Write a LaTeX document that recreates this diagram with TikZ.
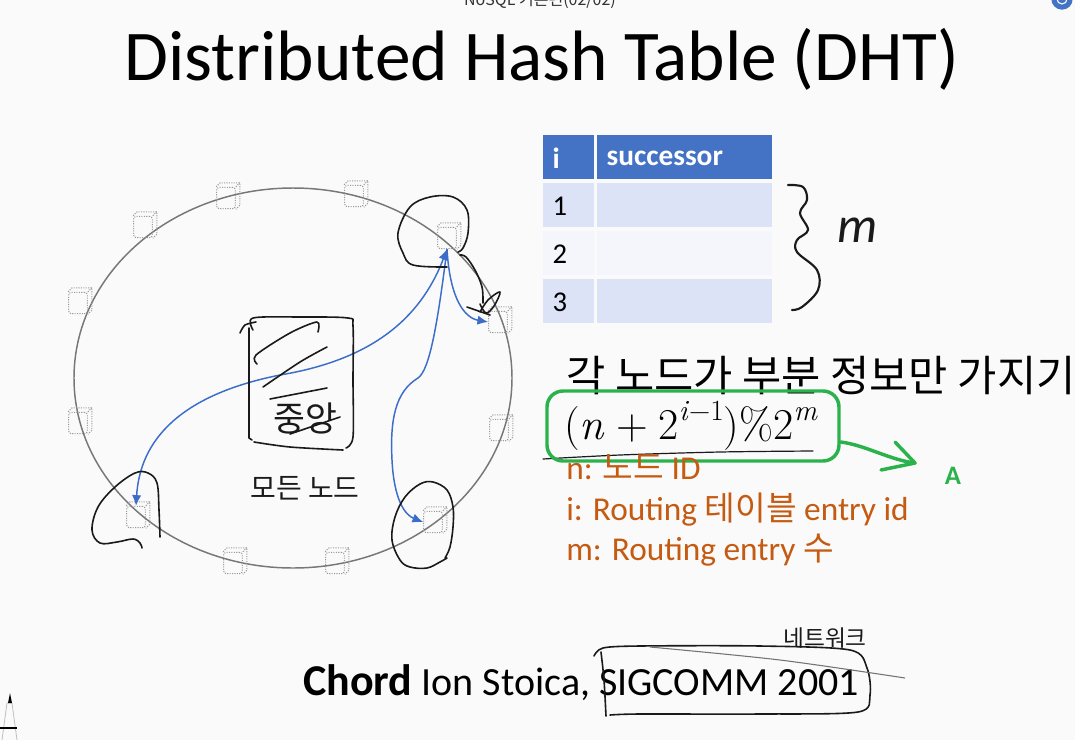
\documentclass[tikz,border=0pt]{standalone}
\usepackage{fontspec}
\setmainfont{Carlito}
\newfontfamily\kr{Noto Sans CJK KR}
\newfontfamily\lmroman{Latin Modern Roman}
\usetikzlibrary{arrows.meta,shapes.geometric}

\definecolor{slidebg}{HTML}{FAFAFA}
\definecolor{ringgray}{HTML}{777777}
\definecolor{cubegray}{HTML}{9A9A9A}
\definecolor{linkblue}{HTML}{3B6DC9}
\definecolor{hdrblue}{HTML}{4472C4}
\definecolor{rowblue}{HTML}{DCE3F7}
\definecolor{rowpale}{HTML}{F4F6FC}
\definecolor{noteorange}{HTML}{C55A11}
\definecolor{pengreen}{HTML}{2BB24C}
\definecolor{inkblack}{HTML}{1A1A1A}

% superscript set in text fonts so it scales with the formula
\newcommand{\supx}[1]{\raisebox{0.42em}{\fontsize{22}{24}\selectfont #1}}

\begin{document}
\begin{tikzpicture}[x=0.75pt,y=-0.75pt,
  cube/.style={draw=cubegray, densely dotted, line width=0.8pt, rounded corners=2pt,
    minimum width=14pt, minimum height=16pt, inner sep=0pt},
  cubeedge/.style={draw=cubegray, densely dotted, line width=0.8pt},
  link/.style={draw=linkblue, line width=1.1pt, -{Latex[length=8pt,width=7pt]}},
  hand/.style={draw=inkblack, line width=1.2pt, line cap=round, line join=round},
  greenpen/.style={draw=pengreen, line width=2.6pt, line cap=round, line join=round},
  cell/.style={anchor=north west, inner sep=0pt, minimum height=33pt, text=black,
    font=\fontsize{19}{22}\selectfont, text depth=0pt},
  celltext/.style={anchor=west, inner sep=0pt, font=\fontsize{21.5}{24}\selectfont},
  note/.style={anchor=base west, inner sep=0pt, text=noteorange,
    font=\fontsize{25}{30}\selectfont},
  script/.style={inner sep=0pt, text=inkblack, font=\kr}
]
\clip (0,0) rectangle (1075,740);
\fill[slidebg] (0,0) rectangle (1075,740);

% window header strip
\node[anchor=base, inner sep=0pt, font=\kr\fontsize{12}{14}\selectfont, text=black!80] (hdr) at (540,5) {NoSQL 기본편(02/02)};
\node[circle, fill=hdrblue, minimum size=16pt, inner sep=0pt] (icon) at (1062,-1) {};
\draw[white, line width=0.8pt] (icon.center) circle [radius=5];

% title
\node[anchor=base, inner sep=0pt, font=\fontsize{53.5}{62}\selectfont] (title) at (542,80) {Distributed Hash Table (DHT)};

% ring of peers
\node[draw=ringgray, line width=1.1pt, ellipse, minimum width=328.5pt, minimum height=285pt, inner sep=0pt] (ring) at (293,378) {};
\foreach \i/\x/\y in {1/143/227, 2/226/198, 3/354/196, 4/447/238, 5/78/303, 6/498/322,
                      7/78/423, 8/499/430, 9/136/517, 10/433/522, 11/233/563, 12/335/563}{
  \node[cube] (c\i) at (\x,\y) {};
  \draw[cubeedge] (c\i.north west) -- ++(4,-4) -| ([shift={(4,-4)}]c\i.south east) -- (c\i.south east);
  \draw[cubeedge] (c\i.north east) -- ++(4,-4);
}

% finger links from the top-right peer
\draw[link, {Latex[length=8pt,width=7pt]}-{Latex[length=8pt,width=7pt]}] (c4.south) .. controls (420,320) and (370,360) .. (280,375)
      .. controls (180,395) and (140,440) .. (c9.north);
\draw[link] (c4.south) .. controls (450,300) and (465,318) .. (c6.west);
\draw[link] (c4.south) .. controls (438,320) and (430,370) .. (418,378)
      .. controls (395,392) and (390,420) .. (392,460)
      .. controls (394,500) and (405,515) .. (c10.west);

% pen marks around the peers
\draw[hand] plot[smooth, tension=0.6] coordinates {(447,267) (413,265) (403,253) (398,233) (410,207) (430,197) (453,197) (467,210) (468,233) (463,248) (458,252)};
\draw[hand] plot[smooth, tension=0.6] coordinates {(460,255) (466,257) (475,270) (482,287) (483,303)};
\draw[hand] plot[smooth, tension=0.6] coordinates {(480,312) (488,300) (500,292) (494,306) (486,313) (480,304)};
\draw[hand] (467,307) -- (490,315);
\draw[hand] plot[smooth, tension=0.6] coordinates {(160,537) (159,510) (157,483) (148,473) (135,473) (115,487) (98,507) (92,530) (100,543) (117,542) (133,539) (140,543) (142,548)};
\draw[hand] plot[smooth, tension=0.6] coordinates {(445,558) (450,547) (453,527) (453,507) (447,490) (433,482) (420,484) (405,497) (395,517) (392,540) (400,560) (410,567) (427,568) (440,562) (447,558)};

% central directory, crossed out
\draw[hand] plot[smooth, tension=0.5] coordinates {(253,330) (253,318) (300,317) (348,318) (353,326) (353,380) (353,437) (346,448)};
\draw[hand] plot[smooth, tension=0.5] coordinates {(254,442) (290,447) (343,450)};
\draw[hand] plot[smooth, tension=0.5] coordinates {(240,333) (245,325) (256,322)};
\draw[hand] (249,328) -- (249,438) -- (252,440);
\draw[hand] plot[smooth, tension=0.5] coordinates {(257,364) (256,355) (290,333) (317,322) (318,332)};
\draw[hand] plot[smooth, tension=0.5] coordinates {(327,347) (300,362) (263,387)};
\node[script, font=\kr\fontsize{26}{30}\selectfont] (center) at (305,418) {중앙};
\draw[hand] (270,399) -- (327,388);
\draw[hand] (290,434) -- (340,417);
\node[script, font=\kr\fontsize{21}{26}\selectfont] (allnodes) at (305,488) {모든 노드};

% successor table
\node[cell, fill=hdrblue, minimum width=38.25pt] (hi) at (543,135) {};
\node[cell, fill=hdrblue, minimum width=131.25pt] (hs) at (597,135) {};
\node[celltext, text=white, font=\bfseries\fontsize{22}{24}\selectfont] at ([xshift=7pt,yshift=-1pt]hi.west) {i};
\node[celltext, text=white, font=\bfseries\fontsize{22}{24}\selectfont] at ([xshift=7pt,yshift=-1pt]hs.west) {successor};
\foreach \r/\y/\c in {1/183/rowblue, 2/231/rowpale, 3/279/rowblue}{
  \node[cell, fill=\c, minimum width=38.25pt] (ri\r) at (543,\y) {};
  \node[cell, fill=\c, minimum width=131.25pt] (rs\r) at (597,\y) {};
  \node[celltext] at ([xshift=7pt,yshift=-1pt]ri\r.west) {\r};
}

% hand-drawn brace with m
\draw[hand, line width=1.6pt] plot[smooth, tension=0.6] coordinates {(788,185) (803,187) (807,200) (800,213) (808,230) (797,240) (797,252) (817,270) (818,290) (802,307) (792,310)};
\node[inner sep=0pt, font=\itshape\fontsize{38}{42}\selectfont, text=inkblack] (mm) at (858,230) {m};

% key points
\node[anchor=base west, inner sep=0pt, font=\kr\fontsize{32}{38}\selectfont] (lead) at (566,391) {각 노드가 부분 정보만 가지기};
\node[anchor=base west, inner sep=0pt, font=\lmroman\fontsize{33}{40}\selectfont] (formula) at (564,439)
  {(\textit{n}\hspace{0.25em}+\hspace{0.25em}2\supx{\textit{i}−1})\%2\supx{\textit{m}}};
\draw[hand, line width=0.9pt] plot[smooth, tension=0.5] coordinates {(543,459) (620,455) (720,452) (813,451)};
\node[draw=pengreen, line width=2.6pt, rounded corners=12pt, minimum width=219pt, minimum height=52.5pt, inner sep=0pt] (box) at (693,426) {};
\coordinate (atip) at (915,463);
\draw[greenpen] ([yshift=-12pt]box.east) .. controls (865,445) and (890,460) .. (atip);
\draw[greenpen] (895,442) -- (atip) -- (881,470);
\node[inner sep=0pt, text=pengreen, font=\bfseries\fontsize{20}{24}\selectfont] (alabel) at (953,476) {A};

\node[note] (n1) at (566,479) {n: {\kr 노드} ID};
\node[note] (n2) at (566,520) {i: Routing {\kr 테이블} entry id};
\node[note] (n3) at (566,560) {m: Routing entry {\kr 수}};

% reference
\node[anchor=base west, inner sep=0pt, font=\fontsize{30}{36}\selectfont] (cite) at (303,695) {{\bfseries\fontsize{33}{40}\selectfont Chord} Ion Stoica, SIGCOMM 2001};
\draw[hand] plot[smooth, tension=0.5] coordinates {(594,656) (603,648) (640,646) (760,646) (850,650) (867,668) (870,695) (858,712) (760,714) (640,714) (610,715)};
\draw[hand] plot[smooth, tension=0.5] coordinates {(601,652) (604,680) (606,716)};
\draw[draw=black!55, line width=0.8pt] plot[smooth, tension=0.5] coordinates {(650,647) (780,660) (905,678)};
\node[script, font=\kr\fontsize{17}{20}\selectfont] (net) at (825,638) {네트워크};

% pen tool
\draw[black!25, line width=0.6pt] (2,740) -- (7,703) -- (12,703) -- (17,740);
\fill[black] (8,703) -- (10,693) -- (12,703) -- cycle;
\draw[black, line width=1.3pt] (0,728) -- (17,728);
\end{tikzpicture}
\end{document}
